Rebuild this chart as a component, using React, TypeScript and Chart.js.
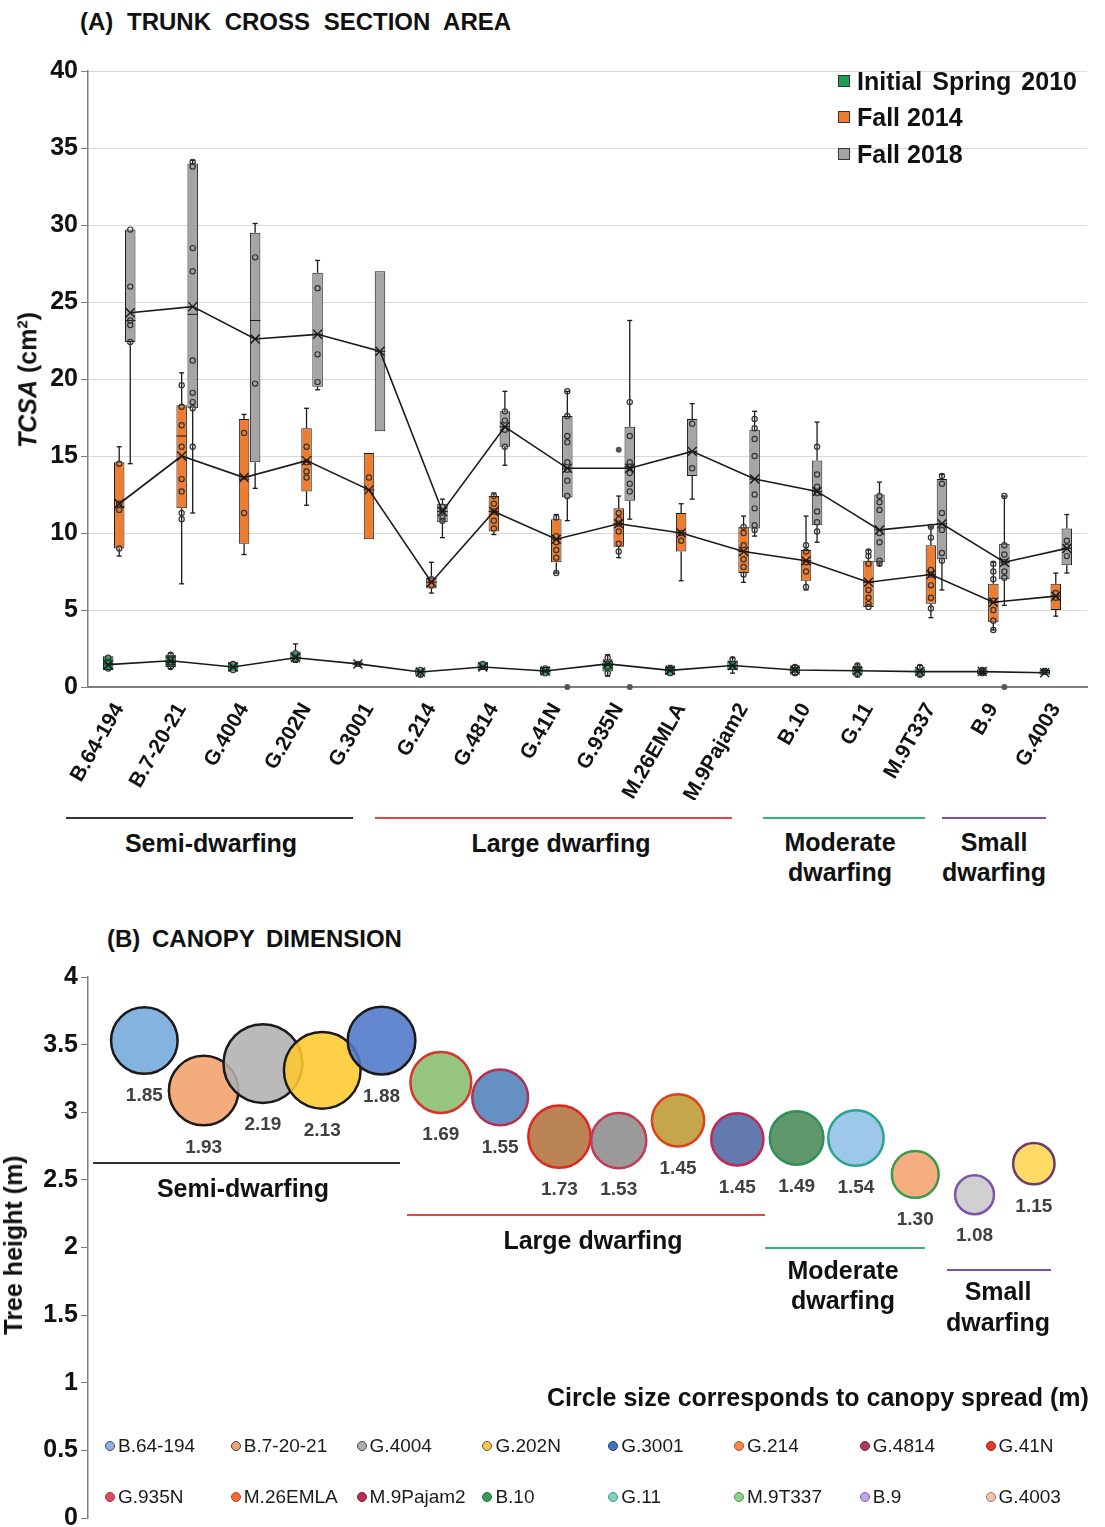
import React, { useEffect, useRef } from "react";
import { Chart, registerables } from "chart.js";
Chart.register(...registerables);

const FONT = '"Liberation Sans", Arial, sans-serif';

// ---------- Panel A data ----------
const CULTIVARS = ["B.64-194", "B.7-20-21", "G.4004", "G.202N", "G.3001", "G.214", "G.4814", "G.41N", "G.935N", "M.26EMLA", "M.9Pajam2", "B.10", "G.11", "M.9T337", "B.9", "G.4003"];
const SERIES_NAMES = ["Initial Spring 2010", "Fall 2014", "Fall 2018"];
const SERIES_COLORS = ["#1f9e55", "#ed7d31", "#a5a5a5"];

// Initial Spring 2010
const S10_MIN = [1.1, 1.2, 1.0, 1.6, 1.4, 0.7, 1.1, 0.8, 0.7, 0.8, 0.9, 0.8, 0.7, 0.7, 0.8, 0.8];
const S10_Q1 = [1.1, 1.3, 1.0, 1.7, 1.4, 0.8, 1.1, 0.8, 1.0, 0.8, 1.1, 0.9, 0.8, 0.8, 0.85, 0.8];
const S10_MED = [1.5, 1.6, 1.3, 1.9, 1.5, 1.0, 1.3, 1.0, 1.4, 1.1, 1.4, 1.1, 1.1, 1.0, 1.0, 0.95];
const S10_Q3 = [2.0, 2.1, 1.6, 2.3, 1.6, 1.2, 1.6, 1.3, 1.7, 1.3, 1.7, 1.3, 1.3, 1.2, 1.15, 1.1];
const S10_MAX = [2.0, 2.2, 1.6, 2.8, 1.6, 1.2, 1.6, 1.3, 2.1, 1.4, 1.9, 1.4, 1.5, 1.4, 1.2, 1.2];
const S10_MEAN = [1.45, 1.7, 1.3, 1.9, 1.5, 0.97, 1.3, 1.04, 1.5, 1.08, 1.4, 1.1, 1.06, 1.0, 1.0, 0.93];
const S10_PTS = [[1.9, 1.6, 1.2], [2.1, 1.8, 1.5, 1.3], [1.5, 1.1], [2.2, 1.8], [1.5], [1.1, 0.8], [1.5], [1.2, 0.9], [1.9, 1.3, 0.9], [1.2, 0.9], [1.8, 1.3], [1.3, 0.9], [1.4, 1.2, 0.8], [1.3, 0.8], [1.1, 0.9], [1.0]];
const S10_OUT = [[], [], [], [], [], [], [], [], [], [], [], [], [], [], [], []];

// Fall 2014
const F14_MIN = [8.5, 6.7, 8.6, 11.8, 9.6, 6.1, 9.9, 7.4, 8.4, 6.9, 6.8, 6.3, 5.2, 4.5, 3.7, 4.6];
const F14_Q1 = [9.0, 11.6, 9.3, 12.7, 9.6, 6.4, 10.1, 8.1, 9.1, 8.8, 7.4, 6.9, 5.2, 5.4, 4.2, 5.0];
const F14_MED = [11.7, 16.3, 13.5, 14.6, 12.8, 6.8, 11.4, 9.6, 10.6, 10.0, 8.8, 8.2, 6.8, 7.3, 5.5, 5.9];
const F14_Q3 = [14.6, 18.3, 17.4, 16.8, 15.2, 7.1, 12.4, 10.9, 11.6, 11.3, 10.4, 8.9, 8.2, 9.2, 6.7, 6.7];
const F14_MAX = [15.6, 20.4, 17.7, 18.1, 15.2, 8.1, 12.6, 11.2, 12.4, 11.9, 11.1, 11.1, 8.9, 10.4, 8.1, 7.4];
const F14_MEAN = [11.9, 15.0, 13.6, 14.7, 12.8, 6.8, 11.4, 9.6, 10.6, 10.0, 8.8, 8.2, 6.8, 7.3, 5.5, 5.9];
const F14_PTS = [[14.5, 11.9, 11.5, 9.0], [19.6, 18.2, 17.0, 15.6, 13.5, 12.7, 11.3, 10.9], [16.5, 11.3], [15.6, 14.6, 14.0, 13.6], [13.6], [7.0, 6.6], [12.4, 11.9, 11.4, 10.8, 10.3], [11.0, 9.8, 9.4, 8.9, 8.4, 7.4], [11.3, 10.9, 10.6, 10.1, 9.3, 8.8], [10.0, 9.5], [10.4, 10.0, 9.2, 8.3, 7.8, 7.3], [9.2, 8.8, 8.1, 7.5, 6.5], [8.8, 8.5, 8.0, 6.3, 5.8, 5.4, 5.2], [10.4, 9.7, 7.6, 7.3, 6.6, 5.8, 5.1], [8.0, 7.5, 7.0, 5.6, 5.0, 4.3, 3.7], [6.1, 5.8]];
const F14_OUT = [[], [], [], [], [], [], [], [], [15.4], [], [], [], [], [], [], []];

// Fall 2018
const F18_MIN = [14.5, 11.3, 12.9, 19.3, 16.6, 9.7, 14.4, 10.8, 10.9, 12.2, 9.8, 9.4, 7.9, 6.3, 5.3, 7.4];
const F18_Q1 = [22.4, 18.1, 14.6, 19.5, 16.6, 10.7, 15.6, 12.3, 12.1, 13.7, 10.3, 10.5, 8.1, 8.3, 7.0, 7.9];
const F18_MED = [23.8, 24.2, 23.8, 22.9, 21.8, 11.4, 16.9, 14.2, 14.3, 15.3, 13.5, 12.7, 10.2, 10.6, 8.1, 9.0];
const F18_Q3 = [29.7, 34.0, 29.5, 26.9, 27.0, 11.9, 17.9, 17.6, 16.9, 17.4, 16.7, 14.7, 12.5, 13.5, 9.3, 10.3];
const F18_MAX = [29.7, 34.2, 30.1, 27.7, 27.0, 12.2, 19.2, 19.2, 23.8, 18.4, 17.9, 17.2, 13.3, 13.8, 12.4, 11.2];
const F18_MEAN = [24.3, 24.7, 22.6, 22.9, 21.8, 11.4, 16.9, 14.2, 14.2, 15.3, 13.5, 12.7, 10.2, 10.6, 8.1, 9.0];
const F18_PTS = [[29.7, 26.0, 23.8, 23.5, 22.4], [34.1, 33.8, 28.5, 27.0, 21.2, 19.1, 18.5, 18.1, 15.6], [27.9, 19.7], [25.9, 21.6, 19.8], [], [11.7, 11.4, 11.0, 10.8], [17.9, 17.3, 16.7, 15.6], [19.2, 17.6, 16.3, 15.9, 14.6, 14.1, 13.4, 12.4], [18.5, 16.3, 14.6, 14.3, 13.9, 13.2, 12.7], [17.1, 14.2], [17.4, 16.8, 16.1, 15.0, 12.5, 11.6, 10.5, 10.2], [15.6, 13.8, 13.0, 12.6, 11.4, 10.7, 10.1], [12.4, 12.0, 11.5, 10.0, 9.4, 8.2, 8.0], [13.7, 13.2, 11.3, 10.2, 8.7, 8.2], [12.4, 9.2, 8.6, 8.1, 7.5, 7.1], [9.5, 9.1, 8.5]];
const F18_OUT = [[], [], [], [], [], [], [], [0], [0], [], [], [], [], [], [0], []];

const Y_TICKS_A = [0, 5, 10, 15, 20, 25, 30, 35, 40];

// ---------- Panel B data ----------
const TREE_HEIGHT = [3.53, 3.16, 3.36, 3.31, 3.53, 3.22, 3.11, 2.82, 2.79, 2.94, 2.80, 2.81, 2.81, 2.54, 2.39, 2.62];
const CANOPY_SPREAD = [1.85, 1.93, 2.19, 2.13, 1.88, 1.69, 1.55, 1.73, 1.53, 1.45, 1.45, 1.49, 1.54, 1.30, 1.08, 1.15];
const BUBBLE_FILL = ["#74a8dc", "#f3a16a", "#b1b1b1", "#fdc92f", "#4e78c8", "#86bd6d", "#4f82ba", "#b2733d", "#8c8c8c", "#bd9a33", "#4d68a3", "#4b8a57", "#90c0e8", "#f5a36f", "#c9c9c9", "#ffd54f"];
const BUBBLE_BORDER = ["#1a1a1a", "#1a1a1a", "#1a1a1a", "#1a1a1a", "#1a1a1a", "#d9342b", "#b5304f", "#e0261f", "#c23a54", "#e0401c", "#c02a52", "#2f8f57", "#2aa58c", "#3b9a4c", "#7d55a8", "#6b3b6e"];
const LEGEND_FILL = ["#8fb4e3", "#e8a47a", "#b0b0b0", "#f2c94c", "#4472c4", "#f08a50", "#b03a5a", "#e03a2a", "#d9505a", "#f06a3a", "#b83050", "#3a9a5a", "#7fd0c0", "#90d090", "#c0a8e0", "#f0c8a8"];
const LEGEND_BORDER = ["#3a4a6a", "#5a3a2a", "#444444", "#6a5a20", "#2a3a6a", "#c04a20", "#7a2040", "#a02018", "#a03040", "#c04020", "#7a2038", "#2a6a40", "#3a9a8a", "#4a9a4a", "#7a5aa8", "#9a6a8a"];

const BOX_SERIES = [
  { min: S10_MIN, q1: S10_Q1, med: S10_MED, q3: S10_Q3, max: S10_MAX, mean: S10_MEAN, pts: S10_PTS, out: S10_OUT },
  { min: F14_MIN, q1: F14_Q1, med: F14_MED, q3: F14_Q3, max: F14_MAX, mean: F14_MEAN, pts: F14_PTS, out: F14_OUT },
  { min: F18_MIN, q1: F18_Q1, med: F18_MED, q3: F18_Q3, max: F18_MAX, mean: F18_MEAN, pts: F18_PTS, out: F18_OUT },
];

const boxPlugin = {
  id: "boxExtras",
  afterDatasetsDraw(chart: any) {
    const ctx = chart.ctx;
    const ys = chart.scales.y;
    const line = (x1: number, y1: number, x2: number, y2: number) => {
      ctx.beginPath();
      ctx.moveTo(x1, y1);
      ctx.lineTo(x2, y2);
      ctx.stroke();
    };
    ctx.save();
    BOX_SERIES.forEach((s, di) => {
      const meta = chart.getDatasetMeta(di);
      meta.data.forEach((el: any, j: number) => {
        const x = el.x;
        const w = el.width;
        ctx.strokeStyle = "#1a1a1a";
        ctx.lineWidth = 1.3;
        const pMin = ys.getPixelForValue(s.min[j]);
        const pMax = ys.getPixelForValue(s.max[j]);
        const pQ1 = ys.getPixelForValue(s.q1[j]);
        const pQ3 = ys.getPixelForValue(s.q3[j]);
        if (s.max[j] > s.q3[j]) {
          line(x, pQ3, x, pMax);
          line(x - 2.5, pMax, x + 2.5, pMax);
        }
        if (s.min[j] < s.q1[j]) {
          line(x, pQ1, x, pMin);
          line(x - 2.5, pMin, x + 2.5, pMin);
        }
        const pMed = ys.getPixelForValue(s.med[j]);
        ctx.lineWidth = 1;
        line(x - w / 2, pMed, x + w / 2, pMed);
        ctx.lineWidth = 1.2;
        ctx.strokeStyle = "#333333";
        s.pts[j].forEach((v: number) => {
          ctx.beginPath();
          ctx.arc(x, ys.getPixelForValue(v), 2.6, 0, Math.PI * 2);
          ctx.stroke();
        });
        ctx.fillStyle = "#555555";
        s.out[j].forEach((v: number) => {
          ctx.beginPath();
          ctx.arc(x, ys.getPixelForValue(v), 3, 0, Math.PI * 2);
          ctx.fill();
        });
      });
    });
    BOX_SERIES.forEach((s, di) => {
      const meta = chart.getDatasetMeta(di);
      ctx.strokeStyle = "#1a1a1a";
      ctx.lineWidth = 1.6;
      ctx.beginPath();
      meta.data.forEach((el: any, j: number) => {
        const yy = ys.getPixelForValue(s.mean[j]);
        if (j === 0) ctx.moveTo(el.x, yy);
        else ctx.lineTo(el.x, yy);
      });
      ctx.stroke();
      ctx.lineWidth = 1.4;
      meta.data.forEach((el: any, j: number) => {
        const yy = ys.getPixelForValue(s.mean[j]);
        const d = 4.5;
        line(el.x - d, yy - d, el.x + d, yy + d);
        line(el.x - d, yy + d, el.x + d, yy - d);
      });
    });
    ctx.restore();
  },
};

const bubbleLabelPlugin = {
  id: "bubbleLabels",
  afterDatasetsDraw(chart: any) {
    const ctx = chart.ctx;
    const meta = chart.getDatasetMeta(0);
    ctx.save();
    ctx.font = `bold 19px ${FONT}`;
    ctx.fillStyle = "#404040";
    ctx.textAlign = "center";
    ctx.textBaseline = "middle";
    meta.data.forEach((el: any, i: number) => {
      const r = el.options.radius;
      ctx.fillText(CANOPY_SPREAD[i].toFixed(2), el.x, el.y + r + 22);
    });
    ctx.restore();
  },
};

const textStyle = (size: number, bold = true): React.CSSProperties => ({
  position: "absolute",
  fontFamily: FONT,
  fontSize: size,
  fontWeight: bold ? "bold" : "normal",
  color: "#111",
  whiteSpace: "nowrap",
  lineHeight: "30px",
});

function Centered({ cx, cy, text, size = 25 }: { cx: number; cy: number; text: string; size?: number }) {
  return (
    <div style={{ ...textStyle(size), left: cx, top: cy - 15, transform: "translateX(-50%)" }}>{text}</div>
  );
}

function HLine({ x1, x2, y, color }: { x1: number; x2: number; y: number; color: string }) {
  return <div style={{ position: "absolute", left: x1, top: y - 1, width: x2 - x1, height: 2, background: color }} />;
}

export default function App() {
  const refA = useRef<HTMLCanvasElement>(null);
  const refB = useRef<HTMLCanvasElement>(null);

  useEffect(() => {
    Chart.defaults.font.family = FONT;
    const chartA = new Chart(refA.current as HTMLCanvasElement, {
      type: "bar",
      data: {
        labels: CULTIVARS,
        datasets: BOX_SERIES.map((s, i) => ({
          label: SERIES_NAMES[i],
          data: s.q1.map((q, j) => [q, s.q3[j]]),
          backgroundColor: SERIES_COLORS[i],
          borderColor: "#1a1a1a",
          borderWidth: 1,
          borderSkipped: false,
          categoryPercentage: 0.53,
          barPercentage: 0.95,
        })),
      },
      options: {
        responsive: false,
        animation: false,
        events: [],
        layout: { padding: { left: 8, right: 18, top: 71, bottom: 0 } },
        plugins: { legend: { display: false }, tooltip: { enabled: false } },
        scales: {
          x: {
            type: "category",
            grid: { display: false },
            border: { display: true, color: "#7f7f7f", width: 2 },
            ticks: {
              autoSkip: false,
              minRotation: 60,
              maxRotation: 60,
              padding: 4,
              color: "#111",
              font: { size: 21, weight: "bold", family: FONT },
            },
            afterFit: (scale: any) => {
              scale.height = 113;
            },
          },
          y: {
            min: 0,
            max: 40,
            afterBuildTicks: (scale: any) => {
              scale.ticks = Y_TICKS_A.map((v) => ({ value: v }));
            },
            grid: { color: "#dadada", lineWidth: 1, tickLength: 7, tickColor: "#7f7f7f" },
            border: { display: true, color: "#7f7f7f", width: 1.5 },
            ticks: { color: "#111", padding: 3, font: { size: 25, weight: "bold", family: FONT } },
            afterFit: (scale: any) => {
              scale.width = 80;
            },
          },
        },
      } as any,
      plugins: [boxPlugin],
    });

    const chartB = new Chart(refB.current as HTMLCanvasElement, {
      type: "bubble",
      data: {
        datasets: [
          {
            label: "Canopy",
            data: TREE_HEIGHT.map((h, i) => ({ x: i, y: h })),
            backgroundColor: BUBBLE_FILL.map((c) => c + "e0"),
            borderColor: BUBBLE_BORDER,
            borderWidth: 2.5,
            radius: (ctx: any) => CANOPY_SPREAD[ctx.dataIndex] * 18,
            clip: false,
          } as any,
        ],
      },
      options: {
        responsive: false,
        animation: false,
        events: [],
        layout: { autoPadding: false, padding: { left: 8, right: 0, top: 87, bottom: 32 } },
        plugins: { legend: { display: false }, tooltip: { enabled: false } },
        scales: {
          x: { type: "linear", display: false, min: -0.95, max: 16.2 },
          y: {
            min: 0,
            max: 4,
            ticks: {
              stepSize: 0.5,
              color: "#111",
              padding: 3,
              font: { size: 25, weight: "bold", family: FONT },
              callback: (v: any) => `${Number(v)}`,
            },
            grid: { drawOnChartArea: false, tickLength: 7, tickColor: "#7f7f7f" },
            border: { display: true, color: "#7f7f7f", width: 1.5 },
            afterFit: (scale: any) => {
              scale.width = 80;
            },
          },
        },
      } as any,
      plugins: [bubbleLabelPlugin],
    });

    return () => {
      chartA.destroy();
      chartB.destroy();
    };
  }, []);

  const legendColX = (i: number) => 110 + i * 125.8;
  const legendRowsA = [81, 117, 154];

  return (
    <div style={{ position: "absolute", left: 0, top: 0, width: 1105, height: 1527, overflow: "hidden", background: "#fff" }}>
      {/* Panel A */}
      <div style={{ ...textStyle(24), left: 80, top: 7, wordSpacing: 7 }}>(A) TRUNK CROSS SECTION AREA</div>
      <canvas ref={refA} width={1105} height={800} style={{ position: "absolute", left: 0, top: 0 }} />
      <div style={{ ...textStyle(25), left: 25, top: 380, transform: "translate(-50%, -50%) rotate(-90deg)" }}>
        <i>TCSA</i> (cm<sup style={{ fontSize: 15 }}>2</sup>)
      </div>
      {SERIES_NAMES.map((name, i) => (
        <React.Fragment key={name}>
          <div style={{ position: "absolute", left: 838, top: legendRowsA[i] - 6, width: 10, height: 10, background: SERIES_COLORS[i], border: "1px solid #333" }} />
          <div style={{ ...textStyle(25), left: 857, top: legendRowsA[i] - 15, wordSpacing: i === 0 ? 3 : 0 }}>{name}</div>
        </React.Fragment>
      ))}
      <HLine x1={66} x2={353} y={818} color="#333" />
      <HLine x1={375} x2={732} y={818} color="#e04848" />
      <HLine x1={763} x2={925} y={818} color="#34b47c" />
      <HLine x1={942} x2={1046} y={818} color="#8050b0" />
      <Centered cx={211} cy={843} text="Semi-dwarfing" />
      <Centered cx={561} cy={843} text="Large dwarfing" />
      <Centered cx={840} cy={842} text="Moderate" />
      <Centered cx={840} cy={872} text="dwarfing" />
      <Centered cx={994} cy={842} text="Small" />
      <Centered cx={994} cy={872} text="dwarfing" />

      {/* Panel B */}
      <div style={{ ...textStyle(24), left: 107, top: 924, wordSpacing: 5 }}>(B) CANOPY DIMENSION</div>
      <canvas ref={refB} width={1105} height={660} style={{ position: "absolute", left: 0, top: 890 }} />
      <div style={{ ...textStyle(25), left: 13, top: 1245, transform: "translate(-50%, -50%) rotate(-90deg)" }}>Tree height (m)</div>
      <HLine x1={93} x2={400} y={1163} color="#333" />
      <HLine x1={407} x2={765} y={1215} color="#e04848" />
      <HLine x1={765} x2={925} y={1248} color="#34b47c" />
      <HLine x1={947} x2={1051} y={1270} color="#8050b0" />
      <Centered cx={243} cy={1188} text="Semi-dwarfing" />
      <Centered cx={593} cy={1240} text="Large dwarfing" />
      <Centered cx={843} cy={1270} text="Moderate" />
      <Centered cx={843} cy={1300} text="dwarfing" />
      <Centered cx={998} cy={1291} text="Small" />
      <Centered cx={998} cy={1322} text="dwarfing" />
      <div style={{ ...textStyle(25), left: 547, top: 1382 }}>Circle size corresponds to canopy spread (m)</div>
      {CULTIVARS.map((name, i) => {
        const col = i % 8;
        const cy = i < 8 ? 1446 : 1497;
        const cx = legendColX(col);
        return (
          <React.Fragment key={name}>
            <div style={{ position: "absolute", left: cx - 5, top: cy - 5, width: 8, height: 8, borderRadius: "50%", background: LEGEND_FILL[i], border: `1.5px solid ${LEGEND_BORDER[i]}` }} />
            <div style={{ ...textStyle(19, false), left: cx + 8, top: cy - 15, color: "#1a1a1a" }}>{name}</div>
          </React.Fragment>
        );
      })}
    </div>
  );
}
